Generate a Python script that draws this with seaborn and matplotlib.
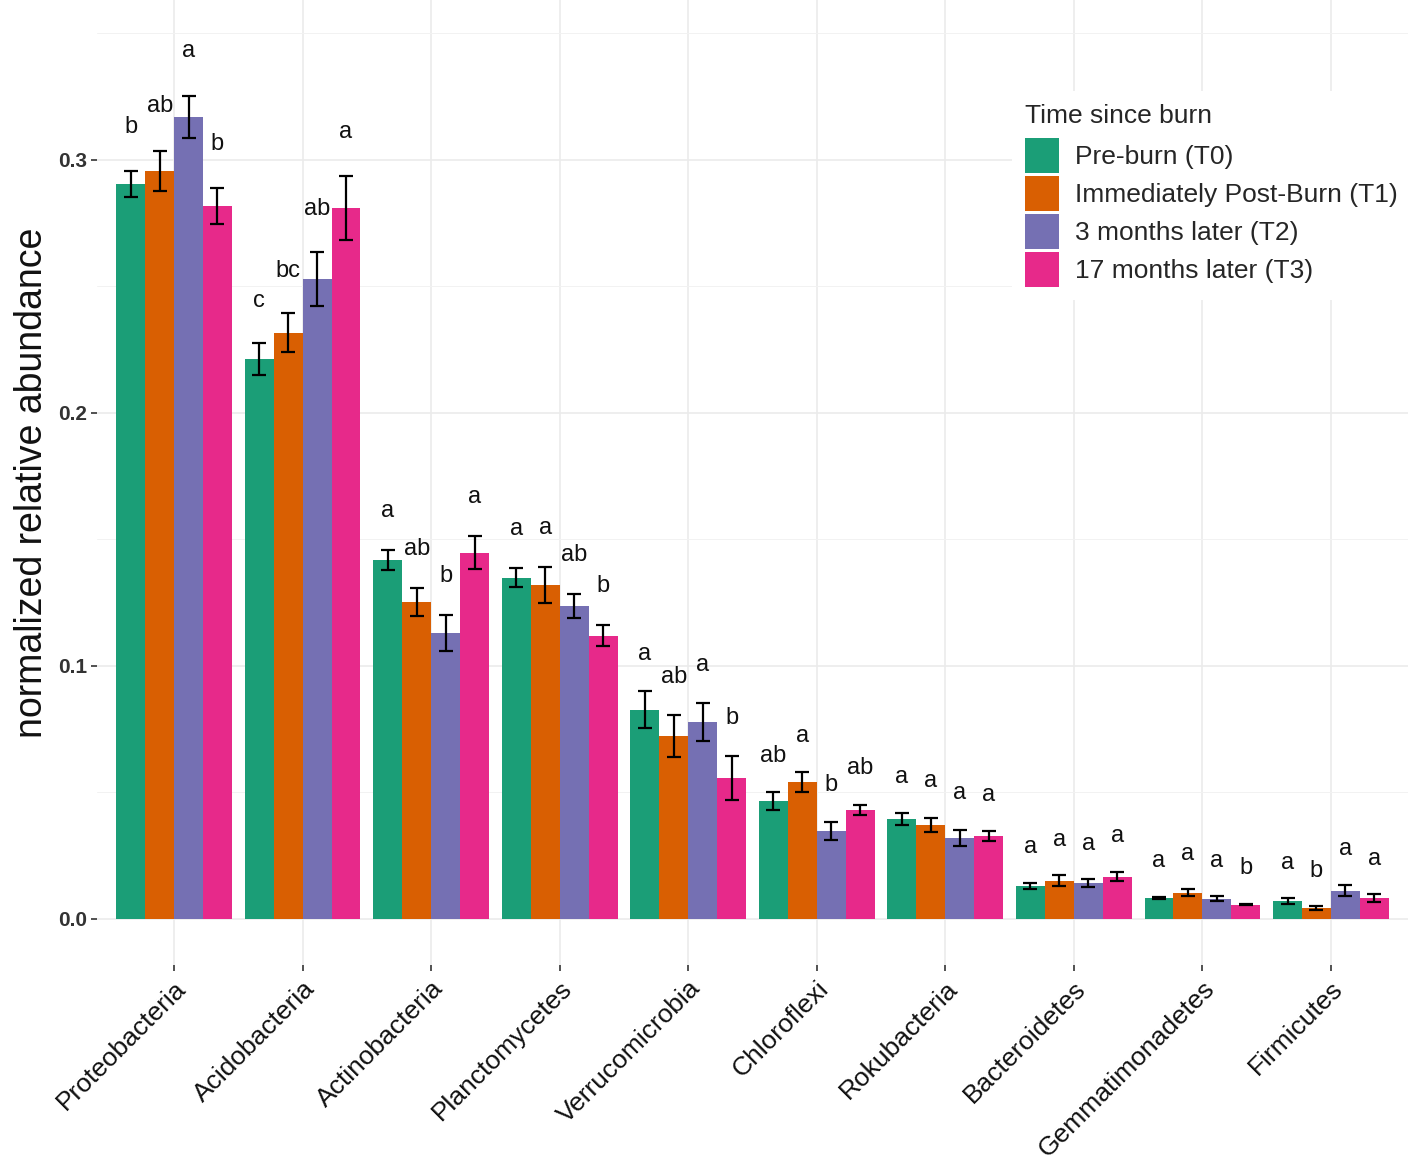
import numpy as np
import pandas as pd
import matplotlib.pyplot as plt
import seaborn as sns
from matplotlib.ticker import MultipleLocator, FormatStrFormatter

# phyla in plotting order
phyla = ['Proteobacteria', 'Acidobacteria', 'Actinobacteria', 'Planctomycetes',
         'Verrucomicrobia', 'Chloroflexi', 'Rokubacteria', 'Bacteroidetes',
         'Gemmatimonadetes', 'Firmicutes']
groups = ['Pre-burn (T0)', 'Immediately Post-Burn (T1)',
          '3 months later (T2)', '17 months later (T3)']
colors = ['#1B9E77', '#D95F02', '#7570B3', '#E7298A']

# mean normalized relative abundance per time point
mean_t0 = [0.2905, 0.2213, 0.1419, 0.1349, 0.0826, 0.0466, 0.0395, 0.0132, 0.0083, 0.0071]
mean_t1 = [0.2957, 0.2316, 0.1253, 0.1320, 0.0723, 0.0541, 0.0372, 0.0151, 0.0104, 0.0043]
mean_t2 = [0.3171, 0.2530, 0.1130, 0.1237, 0.0780, 0.0349, 0.0320, 0.0142, 0.0079, 0.0112]
mean_t3 = [0.2819, 0.2810, 0.1447, 0.1120, 0.0559, 0.0431, 0.0328, 0.0167, 0.0057, 0.0083]

# standard errors
se_t0 = [0.0051, 0.0063, 0.0038, 0.0037, 0.0073, 0.0035, 0.0024, 0.0012, 0.0005, 0.0010]
se_t1 = [0.0080, 0.0077, 0.0055, 0.0071, 0.0083, 0.0038, 0.0028, 0.0021, 0.0013, 0.0007]
se_t2 = [0.0083, 0.0107, 0.0071, 0.0047, 0.0075, 0.0036, 0.0033, 0.0015, 0.0010, 0.0023]
se_t3 = [0.0071, 0.0126, 0.0065, 0.0043, 0.0087, 0.0020, 0.0021, 0.0018, 0.0003, 0.0016]

# significance letters
let_t0 = ['b', 'c', 'a', 'a', 'a', 'ab', 'a', 'a', 'a', 'a']
let_t1 = ['ab', 'bc', 'ab', 'a', 'ab', 'a', 'a', 'a', 'a', 'b']
let_t2 = ['a', 'ab', 'b', 'ab', 'a', 'b', 'a', 'a', 'a', 'a']
let_t3 = ['b', 'a', 'a', 'b', 'b', 'ab', 'a', 'a', 'b', 'a']

means = [mean_t0, mean_t1, mean_t2, mean_t3]
ses = [se_t0, se_t1, se_t2, se_t3]
letters = [let_t0, let_t1, let_t2, let_t3]

df = pd.DataFrame({
    'phylum': phyla * len(groups),
    'time': np.repeat(groups, len(phyla)),
    'abundance': np.concatenate(means),
    'se': np.concatenate(ses),
    'letter': sum(letters, []),
})

sns.set_style('white')
plt.rcParams['font.family'] = ['Liberation Sans', 'DejaVu Sans']

W, H = 1414, 1161
fig = plt.figure(figsize=(W / 100, H / 100), dpi=100)
ax = fig.add_axes([97 / W, 1 - 965 / H, (1408 - 97) / W, 965 / H])
ax.set_axisbelow(True)

sns.barplot(data=df, x='phylum', y='abundance', hue='time', order=phyla,
            hue_order=groups, palette=colors, width=0.9, gap=0, errorbar=None,
            saturation=1, linewidth=0, ax=ax)

for container, grp in zip(ax.containers, groups):
    sub = df[df.time == grp].set_index('phylum').loc[phyla]
    xs = [b.get_x() + b.get_width() / 2 for b in container]
    ax.errorbar(xs, sub['abundance'], yerr=sub['se'], fmt='none', ecolor='black',
                elinewidth=1.6, capsize=5, capthick=1.6, zorder=3)
    for x, m, s, l in zip(xs, sub['abundance'], sub['se'], sub['letter']):
        top = m + s
        ax.text(x, top + 0.0115 + 0.0119 * top, l, ha='center', va='baseline',
                fontsize=17, color='#111111')

ax.set_xlim(-0.6, 9.6)
ax.set_ylim(-0.0182, 0.3632)
ax.yaxis.set_major_locator(MultipleLocator(0.1))
ax.yaxis.set_minor_locator(MultipleLocator(0.05))
ax.yaxis.set_major_formatter(FormatStrFormatter('%.1f'))
ax.grid(which='major', color='#EBEBEB', linewidth=1.2)
ax.grid(which='minor', axis='y', color='#F2F2F2', linewidth=0.7)
for sp in ax.spines.values():
    sp.set_visible(False)

ax.tick_params(axis='both', which='major', bottom=True, left=True,
               length=4, width=1.2, color='#333333')
ax.tick_params(axis='y', which='minor', left=False, length=0)
ax.tick_params(axis='y', labelsize=15, labelcolor='#333333', pad=3)
ax.tick_params(axis='x', labelsize=19, labelcolor='#111111', pad=4)
for lab in ax.get_yticklabels():
    lab.set_fontweight('bold')
for lab in ax.get_xticklabels():
    lab.set_rotation(45)
    lab.set_ha('right')
    lab.set_rotation_mode('anchor')

ax.set_xlabel('')
ax.set_ylabel('normalized relative abundance', fontsize=27, color='#111111')
ax.yaxis.set_label_coords((50 - 97) / 1311, 0.5)

leg = ax.legend(title='Time since burn', loc='upper left',
                bbox_to_anchor=(1012 / W, 1 - 91 / H), bbox_transform=fig.transFigure,
                fontsize=19, title_fontsize=19, frameon=True, facecolor='white',
                edgecolor='none', framealpha=1, fancybox=False, handlelength=1.29,
                handleheight=1.66, labelspacing=0.12, handletextpad=0.6,
                borderpad=0.5, borderaxespad=0, alignment='left')
# a bit more room between the legend title and the keys
leg._legend_box.sep = 7

fig.savefig('out.png', dpi=100)
